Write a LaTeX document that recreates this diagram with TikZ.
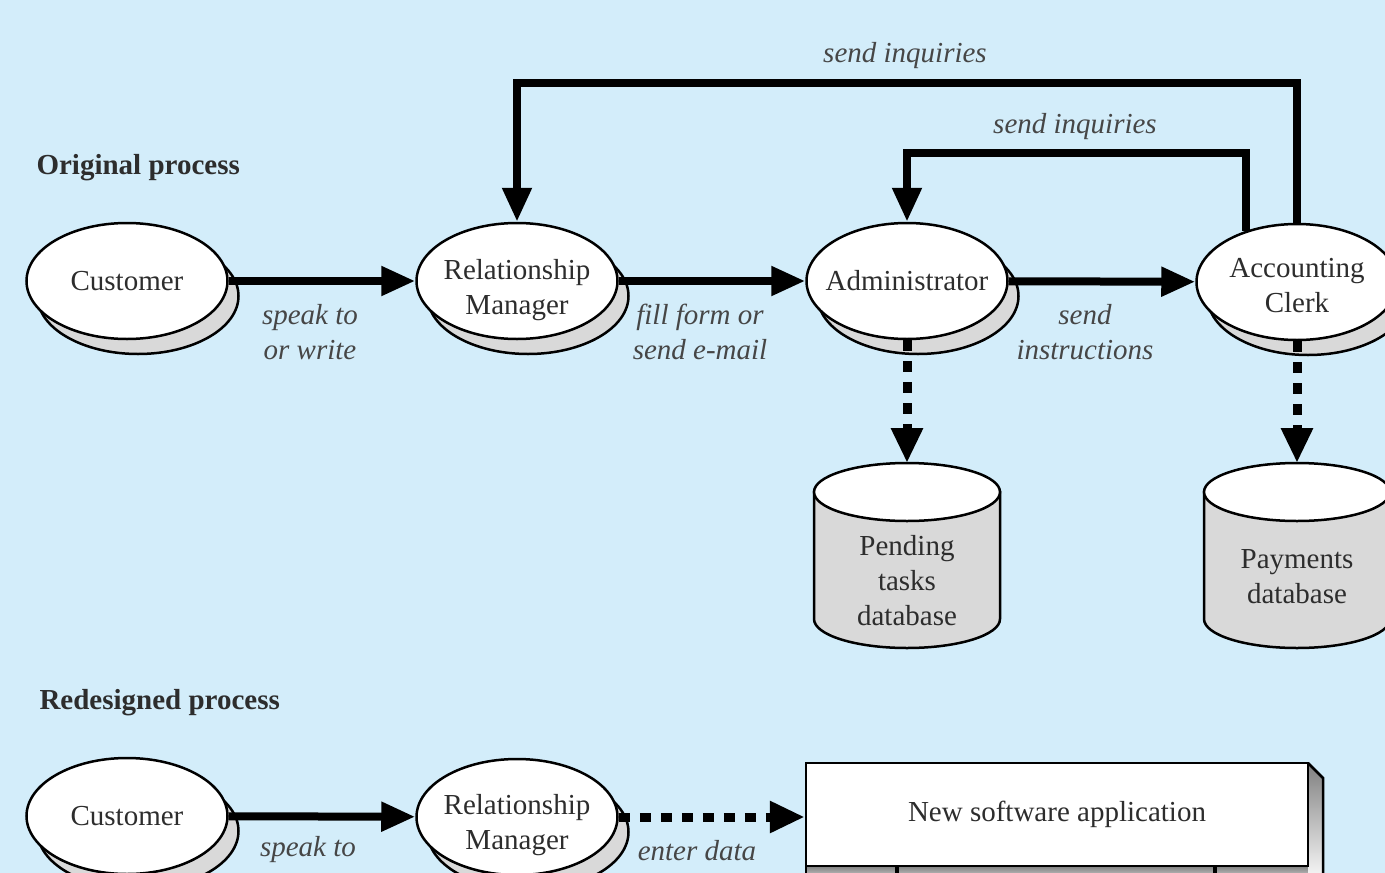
\documentclass[tikz,border=0pt]{standalone}
\usepackage{fontspec}
\setmainfont{Liberation Serif}
\usetikzlibrary{arrows.meta,shadows,shapes.geometric}
\definecolor{bg}{RGB}{211,237,250}
\definecolor{txt}{RGB}{45,45,45}
\definecolor{lbl}{RGB}{70,70,70}
\definecolor{shade}{RGB}{217,217,217}
\newcommand{\twolines}[3][-8pt]{\raisebox{#1}[\height][\depth]{\begin{tabular}{@{}c@{}}#2\\#3\end{tabular}}}
\begin{document}
\begin{tikzpicture}[x=1pt,y=-1pt,
  actor/.style={ellipse, draw=black, line width=2.5pt, fill=white,
    minimum width=201pt, minimum height=116pt, inner xsep=-14pt, inner ysep=0pt, align=center,
    text=txt, font=\fontsize{29}{35}\selectfont,
    copy shadow={shadow xshift=11pt, shadow yshift=-15pt, fill=shade, draw=black, line width=2.5pt}},
  flow/.style={line width=8pt, -{Triangle[length=34pt,width=28pt]}},
  dotflow/.style={line width=9pt, dash pattern=on 11pt off 10pt, -{Triangle[length=35pt,width=30pt]}},
  lab/.style={font=\fontsize{29}{35}\selectfont\itshape, text=lbl, align=center},
  head/.style={font=\fontsize{29}{34}\selectfont\bfseries, text=txt, anchor=west},
  dbtext/.style={font=\fontsize{29}{35}\selectfont, text=txt, align=center},
  appbox/.style={draw=black, line width=2.5pt, fill=white, minimum width=502pt,
    minimum height=103pt, inner sep=0pt, text=txt, font=\fontsize{29}{35}\selectfont},
  outline/.style={draw=black, line width=2.5pt}
]
\fill[bg] (0,0) rectangle (1385,873);
\useasboundingbox (0,0) rectangle (1385,873);
\clip (0,0) rectangle (1385,873);

% headers
\node[head] (h1) at (33,168) {Original process};
\node[head] (h2) at (36,703) {Redesigned process};

% cylinders
\foreach \cx in {907,1297}{
  \path[outline, fill=shade] (\cx-93,492) -- (\cx-93,619)
    arc[start angle=180, end angle=0, x radius=93, y radius=29] -- (\cx+93,492) -- cycle;
  \path[outline, fill=white] (\cx,492) ellipse [x radius=93, y radius=29];
}
\coordinate (pendtop) at (907,463);
\coordinate (paytop) at (1297,463);
\node[dbtext] (pend) at (907,581) {Pending\\tasks\\database};
\node[dbtext] (pay) at (1297,577) {Payments\\database};

% 3D box extras
\fill[shade] (806,866) rectangle (1323,885);
\fill[shade] (1308,763) -- (1323,778) -- (1323,885) -- (1308,885) -- cycle;
\draw[line width=2.5pt] (1308,763) -- (1323,778) -- (1323,885);
\draw[line width=2.5pt] (806,866) -- (806,885);
\draw[line width=4pt] (897,866) -- (897,885);
\draw[line width=4pt] (1215,866) -- (1215,885);
\node[appbox] (app) at (1057,814.5) {New software application};

% actors
\node[actor] (cust1) at (127,281) {Customer};
\node[actor] (rm1) at (517,281) {\twolines[-9pt]{Relationship}{Manager}};
\node[actor] (adm) at (907,281) {Administrator};
\node[actor] (ac) at (1297,282) {\twolines[-6pt]{Accounting}{Clerk}};
\node[actor] (cust2) at (127,816) {Customer};
\node[actor] (rm2) at (517,817) {\twolines[-8pt]{Relationship}{Manager}};

% feedback
\coordinate (otop) at (0,83);
\coordinate (itop) at (0,153);
\draw[flow] (ac.north) -- (ac.north |- otop) -| (rm1.north);
\draw[flow] (ac.135) -- (ac.135 |- itop) -| (adm.north);

% main flows
\draw[flow] (cust1) -- (rm1);
\draw[flow] (rm1) -- (adm);
\draw[flow] (adm) -- (ac);
\draw[dotflow] (adm.south) -- (pendtop);
\draw[dotflow] (ac.south) -- (paytop);
\draw[flow] (cust2) -- (rm2);
\draw[dotflow] (rm2.east) -- (rm2.east -| app.west);

% labels
\node[lab] (l1) at (310,332) {speak to\\or write};
\node[lab] (l2) at (700,332) {fill form or\\send e-mail};
\node[lab] (l3) at (1085,332) {send\\instructions};
\node[lab] (l4) at (905,56) {send inquiries};
\node[lab] (l5) at (1075,127) {send inquiries};
\node[lab] (l6) at (308,850) {speak to};
\node[lab] (l7) at (697,851) {enter data};
\end{tikzpicture}
\end{document}
